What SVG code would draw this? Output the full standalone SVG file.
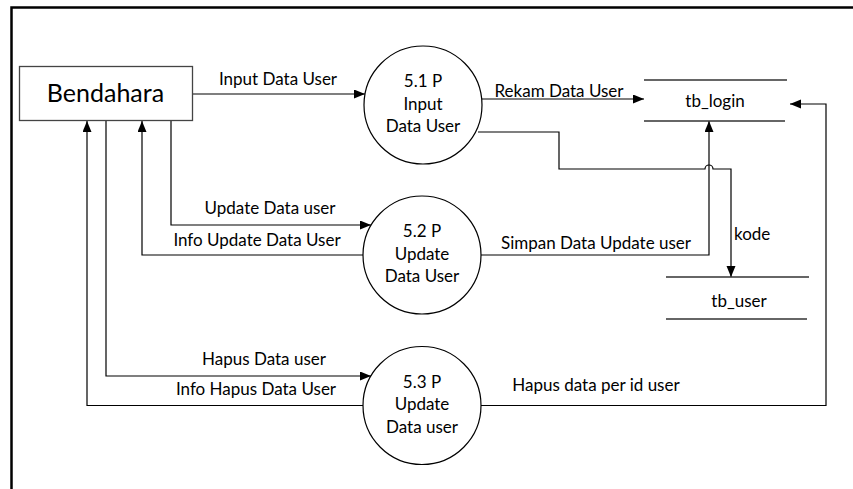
<svg xmlns="http://www.w3.org/2000/svg" width="853" height="489" viewBox="0 0 853 489">
<style>
  .lbl { font-family: Lato, "Liberation Sans", sans-serif; font-size: 17px; fill: #000; }
  .mid { text-anchor: middle; }
  .conn { fill: none; stroke: #000; stroke-width: 1.2; }
  .proc { fill: #fff; stroke: #000; stroke-width: 1.2; }
  .store { stroke: #333; stroke-width: 1.3; }
</style>
<defs>
  <marker id="arr" markerUnits="userSpaceOnUse" markerWidth="12" markerHeight="10" refX="11" refY="4.5" orient="auto">
    <path d="M0,0 L11,4.5 L0,9 z" fill="#000"/>
  </marker>
</defs>
<rect width="853" height="489" fill="#fff"/>
<g id="frame">
  <path d="M11.5,489 V7.5 H853" fill="none" stroke="#000" stroke-width="2.5"/>
</g>
<g id="connectors">
  <path class="conn" d="M192,94 H365" marker-end="url(#arr)"/>
  <path class="conn" d="M482,99 H644" marker-end="url(#arr)"/>
  <path class="conn" d="M478,132 H559 V169 H705 A4,4 0 0 1 713,169 H731 V277" marker-end="url(#arr)"/>
  <path class="conn" d="M171,121 V225 H371" marker-end="url(#arr)"/>
  <path class="conn" d="M363,255 H142 V121" marker-end="url(#arr)"/>
  <path class="conn" d="M481,255 H709 V121" marker-end="url(#arr)"/>
  <path class="conn" d="M106,121 V376 H371" marker-end="url(#arr)"/>
  <path class="conn" d="M363,405.5 H87 V121" marker-end="url(#arr)"/>
  <path class="conn" d="M481,405.5 H826 V104 H790" marker-end="url(#arr)"/>
  <text class="lbl mid" x="278" y="85">Input Data User</text>
  <text class="lbl mid" x="559" y="96.5">Rekam Data User</text>
  <text class="lbl mid" x="270" y="214">Update Data user</text>
  <text class="lbl mid" x="257" y="246">Info Update Data User</text>
  <text class="lbl mid" x="596" y="249">Simpan Data Update user</text>
  <text class="lbl" x="734" y="240">kode</text>
  <text class="lbl mid" x="264" y="365">Hapus Data user</text>
  <text class="lbl mid" x="256" y="395">Info Hapus Data User</text>
  <text class="lbl mid" x="596" y="391">Hapus data per id user</text>
</g>
<g id="bendahara">
  <rect x="19.5" y="66.5" width="173" height="54" fill="#fff" stroke="#444" stroke-width="1.3"/>
  <text x="105.5" y="102" text-anchor="middle" font-family="Lato, 'Liberation Sans', sans-serif" font-size="25">Bendahara</text>
</g>
<g id="p51">
  <circle class="proc" cx="423" cy="105" r="59"/>
  <text class="lbl mid" x="423" y="87">5.1 P</text>
  <text class="lbl mid" x="423" y="109.5">Input</text>
  <text class="lbl mid" x="423" y="132">Data User</text>
</g>
<g id="p52">
  <circle class="proc" cx="422" cy="255" r="59"/>
  <text class="lbl mid" x="422" y="237">5.2 P</text>
  <text class="lbl mid" x="422" y="259.5">Update</text>
  <text class="lbl mid" x="422" y="282">Data User</text>
</g>
<g id="p53">
  <circle class="proc" cx="422" cy="405.5" r="59"/>
  <text class="lbl mid" x="422" y="387.5">5.3 P</text>
  <text class="lbl mid" x="422" y="410">Update</text>
  <text class="lbl mid" x="422" y="432.5">Data user</text>
</g>
<g id="tb_login">
  <line class="store" x1="644" y1="80" x2="787" y2="80"/>
  <line class="store" x1="644" y1="121" x2="785" y2="121"/>
  <text class="lbl mid" x="715" y="107">tb_login</text>
</g>
<g id="tb_user">
  <line class="store" x1="666" y1="277" x2="809" y2="277"/>
  <line class="store" x1="666" y1="319" x2="807" y2="319"/>
  <text class="lbl mid" x="739" y="307">tb_user</text>
</g>
</svg>
